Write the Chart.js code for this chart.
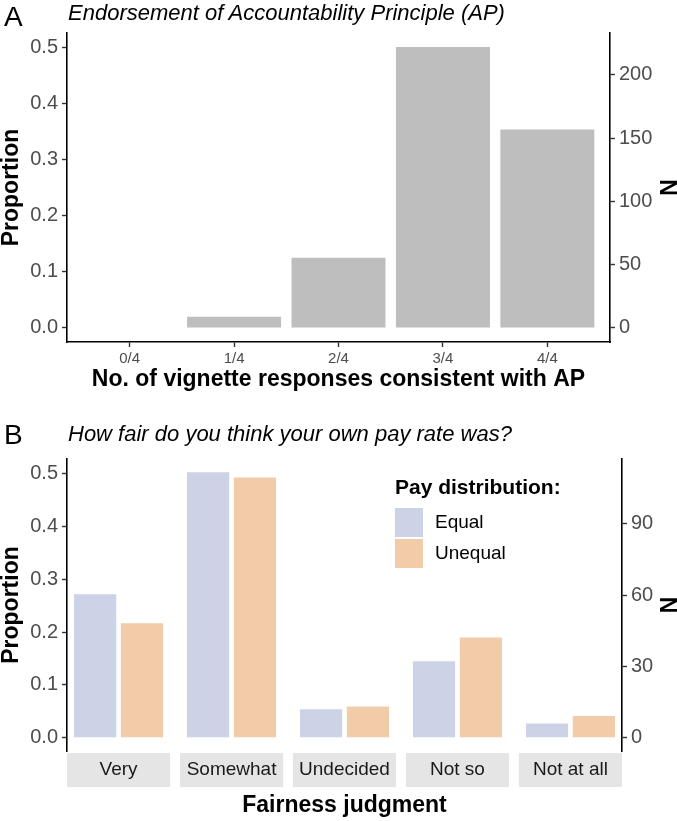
<!DOCTYPE html>
<html>
<head>
<meta charset="utf-8">
<script src="https://cdn.jsdelivr.net/npm/chart.js@4.4.0/dist/chart.umd.min.js"></script>
<style>
body{margin:0;background:#fff;font-family:'Liberation Sans',Arial,sans-serif;}
.panel{position:relative;width:677px;}
.tag{position:absolute;left:4px;font-size:28px;line-height:1;color:#000;}
.ttl{position:absolute;left:68px;font-size:22px;font-style:italic;line-height:1;color:#000;}
canvas{display:block;}
</style>
</head>
<body>
<div class="panel" style="height:400px">
  <div class="tag" style="top:3px">A</div>
  <div class="ttl" style="top:2px">Endorsement of Accountability Principle (AP)</div>
  <canvas id="chartA" width="677" height="400"></canvas>
</div>
<div class="panel" style="height:421px">
  <div class="tag" style="top:21px">B</div>
  <div class="ttl" style="top:23px">How fair do you think your own pay rate was?</div>
  <canvas id="chartB" width="677" height="421"></canvas>
</div>
<script>
// panel A data
const apLabels = ['0/4', '1/4', '2/4', '3/4', '4/4'];
const apProportion = [0, 0.020, 0.125, 0.501, 0.354];
const apTotalN = 443;
const propTicks = [0, 0.1, 0.2, 0.3, 0.4, 0.5];
const nTicksA = [0, 50, 100, 150, 200];

// panel B data
const fairLabels = ['Very', 'Somewhat', 'Undecided', 'Not so', 'Not at all'];
const seriesNames = ['Equal', 'Unequal'];
const equalProportion = [0.272, 0.503, 0.054, 0.145, 0.027];
const unequalProportion = [0.217, 0.493, 0.059, 0.190, 0.041];
const groupN = 222;
const nTicksB = [0, 30, 60, 90];
const legendTitle = 'Pay distribution:';

const FONT = "'Liberation Sans', Arial, sans-serif";
Chart.defaults.font.family = FONT;
Chart.defaults.color = '#4D4D4D';

function fixWidth(w){ return function(scale){ scale.width = w; }; }
function fixHeight(h){ return function(scale){ scale.height = h; }; }
function setTicks(values){ return function(scale){ scale.ticks = values.map(v => ({value: v})); }; }

function tickGrid(){
    return {drawOnChartArea: false, drawTicks: true, offset: false, tickLength: 5, tickColor: '#333', tickWidth: 1.4};
}
function axisBorder(){
    return {display: true, color: '#000', width: 1.6};
}

// ggplot style 5% expansion
let maxA = Math.max(...apProportion);
let yMinA = -0.05 * maxA, yMaxA = 1.05 * maxA;

new Chart(document.getElementById('chartA'), {
    type: 'bar',
    data: {
        datasets: [{
            label: 'AP',
            data: apProportion.map((v, i) => ({x: i, y: v})),
            backgroundColor: '#BEBEBE',
            categoryPercentage: 1,
            barPercentage: 0.9
        }]
    },
    options: {
        responsive: false,
        animation: false,
        devicePixelRatio: 1,
        layout: {padding: {top: 33}},
        plugins: {legend: {display: false}, tooltip: {enabled: false}},
        scales: {
            x: {
                type: 'linear', offset: false,
                min: -0.6, max: apLabels.length - 0.4,
                afterBuildTicks: setTicks(apLabels.map((_, i) => i)),
                afterFit: fixHeight(58),
                ticks: {callback: v => apLabels[v], font: {size: 15}, padding: 3, maxRotation: 0, autoSkip: false},
                grid: tickGrid(),
                border: axisBorder(),
                title: {display: true, text: 'No. of vignette responses consistent with AP', color: '#000',
                        font: {size: 23, weight: 'bold'}, padding: {bottom: 7}}
            },
            y: {
                position: 'left', min: yMinA, max: yMaxA,
                afterBuildTicks: setTicks(propTicks),
                afterFit: fixWidth(67),
                ticks: {callback: v => v.toFixed(1), font: {size: 20}, padding: 4},
                grid: tickGrid(),
                border: axisBorder(),
                title: {display: true, text: 'Proportion', color: '#000', font: {size: 23, weight: 'bold', lineHeight: 1}, padding: {top: 0.5}}
            },
            yN: {
                position: 'right', min: yMinA * apTotalN, max: yMaxA * apTotalN,
                afterBuildTicks: setTicks(nTicksA),
                afterFit: fixWidth(67),
                ticks: {font: {size: 20}, padding: 4},
                grid: tickGrid(),
                border: axisBorder(),
                title: {display: true, text: 'N', color: '#000', font: {size: 23, weight: 'bold', lineHeight: 0.9}, padding: {top: 0}}
            }
        }
    }
});

// panel B: facets laid out on one linear axis
const facetStep = 2.41;
let maxB = Math.max(...equalProportion, ...unequalProportion);
let yMinB = -0.05 * maxB, yMaxB = 1.05 * maxB;

const stripPlugin = {
    id: 'strips',
    beforeDraw(chart){
        const {ctx, chartArea, scales: {x}} = chart;
        ctx.save();
        ctx.fillStyle = '#E5E5E5';
        fairLabels.forEach((_, k) => {
            let left = x.getPixelForValue(k * facetStep + 0.4);
            let right = x.getPixelForValue(k * facetStep + 2.6);
            ctx.fillRect(left, chartArea.bottom + 2, right - left, 34);
        });
        ctx.restore();
    }
};

const legendPlugin = {
    id: 'boxLegend',
    afterDraw(chart){
        const ctx = chart.ctx;
        ctx.save();
        ctx.textBaseline = 'middle';
        ctx.textAlign = 'left';
        ctx.fillStyle = '#000';
        ctx.font = "bold 21px " + FONT;
        ctx.fillText(legendTitle, 395, 88);
        ctx.font = "19px " + FONT;
        chart.data.datasets.forEach((ds, i) => {
            let y = 108 + i * 31;
            ctx.fillStyle = ds.backgroundColor;
            ctx.fillRect(395, y, 28, 29);
            ctx.fillStyle = '#000';
            ctx.fillText(ds.label, 435, y + 15);
        });
        ctx.restore();
    }
};

new Chart(document.getElementById('chartB'), {
    type: 'bar',
    data: {
        datasets: [
            {label: seriesNames[0], data: equalProportion.map((v, k) => ({x: k * facetStep + 1, y: v})),
             backgroundColor: '#CCD3E6', grouped: false, categoryPercentage: 1, barPercentage: 0.9},
            {label: seriesNames[1], data: unequalProportion.map((v, k) => ({x: k * facetStep + 2, y: v})),
             backgroundColor: '#F2CBA8', grouped: false, categoryPercentage: 1, barPercentage: 0.9}
        ]
    },
    options: {
        responsive: false,
        animation: false,
        devicePixelRatio: 1,
        layout: {padding: {top: 59}},
        plugins: {legend: {display: false}, tooltip: {enabled: false}},
        scales: {
            x: {
                type: 'linear', offset: false,
                min: 0.4, max: (fairLabels.length - 1) * facetStep + 2.6,
                afterBuildTicks: setTicks(fairLabels.map((_, k) => k * facetStep + 1.5)),
                afterFit: fixHeight(70),
                ticks: {callback: (v, i) => fairLabels[i], font: {size: 19}, color: '#1A1A1A', padding: 7.5, maxRotation: 0, autoSkip: false},
                grid: {display: false, drawTicks: false},
                border: {display: false},
                title: {display: true, text: 'Fairness judgment', color: '#000', font: {size: 23, weight: 'bold'}, padding: {bottom: 1.5}}
            },
            y: {
                position: 'left', min: yMinB, max: yMaxB,
                afterBuildTicks: setTicks(propTicks),
                afterFit: fixWidth(67),
                ticks: {callback: v => v.toFixed(1), font: {size: 20}, padding: 4},
                grid: tickGrid(),
                border: axisBorder(),
                title: {display: true, text: 'Proportion', color: '#000', font: {size: 23, weight: 'bold', lineHeight: 1}, padding: {top: 0.5}}
            },
            yN: {
                position: 'right', min: yMinB * groupN, max: yMaxB * groupN,
                afterBuildTicks: setTicks(nTicksB),
                afterFit: fixWidth(55),
                ticks: {font: {size: 20}, padding: 4},
                grid: tickGrid(),
                border: axisBorder(),
                title: {display: true, text: 'N', color: '#000', font: {size: 23, weight: 'bold', lineHeight: 0.9}, padding: {top: 0}}
            }
        }
    },
    plugins: [stripPlugin, legendPlugin]
});
</script>
</body>
</html>
